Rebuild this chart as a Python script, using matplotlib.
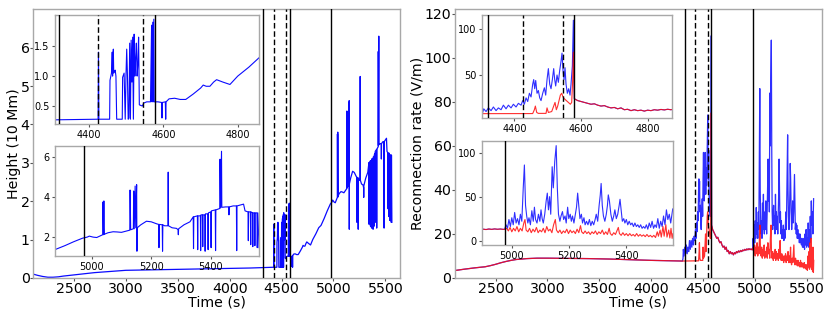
import numpy as np
import matplotlib
matplotlib.use("Agg")
import matplotlib.pyplot as plt

# ---------------- data ----------------
# Height (10 Mm)
h_t = [2110, 2150, 2200, 2250, 2300, 2350, 2400, 2500, 2600, 2700, 2800, 2900, 3000, 3200, 3400, 3600,
       3800, 4000, 4200, 4424, 4425, 4426, 4455, 4456, 4460, 4462, 4463, 4465, 4466, 4468, 4470, 4472,
       4474, 4489, 4490, 4494, 4497, 4499, 4501, 4503, 4505, 4507, 4509, 4511, 4513, 4515, 4517, 4519,
       4521, 4523, 4525, 4527, 4529, 4531, 4533, 4535, 4543, 4547, 4555, 4565, 4568, 4569, 4571, 4572,
       4574, 4575, 4585, 4595, 4596, 4597, 4605, 4606, 4607, 4615, 4630, 4645, 4660, 4680, 4700, 4707,
       4715, 4725, 4735, 4743, 4760, 4779, 4800, 4830, 4858, 4880, 4910, 4940, 4970, 4985, 4992, 5005,
       5017, 5030, 5037, 5038, 5040, 5041, 5042, 5055, 5072, 5085, 5100, 5115, 5128, 5129, 5131, 5140,
       5141, 5143, 5146, 5148, 5151, 5152, 5153, 5165, 5184, 5200, 5218, 5225, 5226, 5227, 5237, 5238,
       5239, 5245, 5256, 5257, 5258, 5270, 5285, 5290, 5291, 5292, 5310, 5330, 5341, 5342, 5343, 5355,
       5356, 5357, 5365, 5366, 5367, 5372, 5373, 5374, 5380, 5381, 5382, 5390, 5391, 5392, 5400, 5401,
       5402, 5415, 5416, 5417, 5430, 5431, 5433, 5436, 5437, 5450, 5460, 5461, 5462, 5475, 5486, 5487,
       5488, 5500, 5510, 5515, 5525, 5526, 5527, 5533, 5534, 5535, 5540, 5541, 5542, 5547, 5548, 5549,
       5555, 5556, 5558, 5562]
h_v = [0.10, 0.07, 0.04, 0.02, 0.02, 0.03, 0.05, 0.08, 0.11, 0.14, 0.16, 0.18, 0.20, 0.21, 0.22, 0.23,
       0.24, 0.25, 0.26, 0.28, 1.40, 0.28, 0.28, 0.93, 1.05, 1.40, 1.00, 1.45, 1.05, 1.08, 1.10, 1.00,
       0.28, 0.28, 0.98, 1.05, 0.28, 1.00, 1.45, 1.00, 0.28, 0.30, 1.55, 0.28, 1.60, 0.90, 1.65, 0.28,
       1.70, 1.00, 1.30, 1.55, 1.00, 1.20, 1.65, 0.52, 0.50, 0.55, 0.57, 0.57, 1.85, 0.57, 1.90, 0.57,
       1.95, 0.57, 0.57, 0.56, 0.30, 0.56, 0.57, 0.28, 0.57, 0.62, 0.63, 0.61, 0.61, 0.70, 0.80, 0.85,
       0.83, 0.83, 0.90, 0.94, 0.90, 0.86, 1.00, 1.15, 1.31, 1.37, 1.55, 1.75, 1.93, 1.98, 2.03, 1.98,
       1.96, 2.05, 2.10, 3.75, 2.10, 3.80, 2.12, 2.20, 2.25, 2.24, 2.22, 2.28, 2.33, 4.35, 2.35, 2.40,
       4.30, 2.40, 4.55, 2.45, 4.62, 1.27, 2.45, 2.60, 2.78, 2.75, 2.65, 2.62, 1.45, 2.62, 2.60, 1.27,
       2.60, 2.55, 2.55, 5.25, 2.55, 2.45, 2.42, 2.35, 2.10, 2.40, 2.60, 2.75, 3.00, 1.40, 3.00, 3.05,
       1.35, 3.05, 3.05, 1.30, 3.10, 3.10, 1.50, 3.10, 3.10, 1.27, 3.15, 3.15, 1.35, 3.20, 3.25, 1.45,
       3.30, 3.35, 1.30, 3.35, 3.42, 5.90, 3.45, 6.30, 3.48, 3.50, 3.50, 3.10, 3.50, 3.55, 3.55, 1.30,
       3.55, 3.60, 3.64, 3.30, 3.25, 1.80, 3.25, 3.25, 1.60, 3.25, 3.20, 1.50, 3.20, 3.20, 1.55, 3.20,
       3.20, 1.45, 3.20, 1.45]

# Reconnection rate (V/m) — common pre-flare part
pre_t = [2110, 2200, 2300, 2400, 2450, 2500, 2550, 2600, 2650, 2700, 2800, 2900, 3000, 3200, 3400,
         3600, 3800, 4000, 4200, 4300]
pre_v = [3.4, 4.0, 4.6, 5.1, 5.6, 6.2, 6.9, 7.5, 8.0, 8.4, 8.8, 9.0, 9.0, 8.9, 8.8,
         8.6, 8.3, 8.0, 7.8, 7.7]
# blue, 4300-4580
b1_t = [4305, 4308, 4315, 4322, 4330, 4337, 4345, 4352, 4360, 4367, 4375, 4382, 4390, 4397, 4405,
        4412, 4420, 4425, 4430, 4435, 4440, 4445, 4450, 4455, 4458, 4461, 4464, 4468, 4472, 4476,
        4480, 4485, 4490, 4494, 4498, 4502, 4506, 4510, 4514, 4518, 4521, 4524, 4528, 4532, 4536,
        4540, 4543, 4546, 4549, 4552, 4555, 4559, 4563, 4567, 4570, 4574, 4577, 4580]
b1_v = [9, 13, 10, 14, 11, 15, 11, 14, 12, 17, 13, 17, 14, 18, 15,
        19, 17, 22, 18, 25, 21, 30, 26, 40, 45, 35, 44, 30, 33, 25,
        22, 30, 36, 28, 45, 57, 40, 35, 45, 57, 45, 38, 50, 42, 55,
        65, 74, 55, 45, 58, 40, 30, 35, 28, 40, 60, 110, 24]
# red, 4300-4580
r1_t = [4455, 4460, 4463, 4467, 4472, 4495, 4498, 4502, 4512, 4518, 4522, 4526, 4530, 4534, 4538,
        4542, 4546, 4550, 4556, 4562, 4568, 4572, 4575, 4577, 4580]
r1_v = [7.8, 12, 16, 9, 8, 8, 14, 9, 10, 16, 20, 12, 16, 22, 28,
        30, 26, 24, 22, 20, 18, 20, 45, 75, 24]
# common decay part 4582-4975
mid_t = [4590, 4600, 4610, 4620, 4630, 4640, 4650, 4660, 4670, 4680, 4690, 4700, 4710, 4720,
         4730, 4740, 4750, 4760, 4770, 4780, 4790, 4800, 4810, 4820, 4830, 4840, 4850, 4860, 4870,
         4880, 4890, 4900, 4910, 4920, 4930, 4940, 4950, 4960, 4970]
mid_v = [22, 21, 20, 19, 18, 18.5, 17, 16, 16.5, 15, 14, 14.5, 13, 14,
         12, 12.5, 11, 12, 11, 11.5, 10.5, 11.5, 11, 12, 11.5, 12.3, 11.8, 12.5, 12,
         12.7, 12.4, 13, 12.6, 13.2, 12.8, 13.3, 12.9, 13.2, 12.8]
# blue, 4975-5565
b2_t = [4975, 4980, 4985, 4990, 4995, 5000, 5005, 5010, 5015, 5020, 5025, 5030, 5035, 5040, 5044,
        5048, 5052, 5056, 5060, 5065, 5070, 5075, 5079, 5083, 5088, 5093, 5098, 5102, 5106, 5110,
        5115, 5120, 5124, 5128, 5132, 5136, 5141, 5145, 5150, 5155, 5159, 5163, 5168, 5172, 5177,
        5181, 5186, 5190, 5195, 5199, 5204, 5208, 5212, 5217, 5222, 5226, 5230, 5234, 5238, 5243,
        5247, 5252, 5256, 5261, 5266, 5271, 5276, 5281, 5286, 5291, 5295, 5300, 5305, 5309, 5312,
        5316, 5320, 5325, 5330, 5334, 5337, 5341, 5346, 5351, 5356, 5360, 5365, 5370, 5375, 5378,
        5382, 5386, 5391, 5395, 5400, 5405, 5410, 5415, 5420, 5425, 5430, 5435, 5440, 5445, 5450,
        5455, 5460, 5465, 5470, 5475, 5480, 5485, 5490, 5495, 5500, 5505, 5510, 5515, 5520, 5525,
        5530, 5535, 5540, 5545, 5550, 5555, 5562]
b2_v = [13, 18, 14, 24, 16, 26, 18, 32, 20, 25, 18, 30, 22, 60, 86,
        40, 28, 20, 26, 18, 34, 22, 38, 24, 20, 30, 22, 35, 25, 20,
        30, 45, 54, 35, 50, 30, 84, 60, 90, 108, 60, 30, 22, 28, 33,
        24, 28, 20, 38, 25, 30, 22, 28, 20, 30, 38, 54, 40, 25, 30,
        20, 26, 18, 22, 18, 24, 17, 22, 18, 24, 30, 22, 40, 52, 65,
        40, 28, 22, 30, 40, 52, 45, 30, 22, 28, 35, 25, 30, 40, 47,
        35, 22, 25, 20, 24, 18, 22, 18, 20, 16, 20, 16, 18, 15, 18,
        14, 16, 14, 18, 13, 20, 15, 22, 14, 18, 15, 25, 14, 22, 16,
        28, 18, 35, 24, 30, 20, 36]
# red, 4975-5565
r2_t = [4975, 4982, 4988, 4994, 5000, 5006, 5012, 5018, 5024, 5030, 5036, 5042, 5046, 5050, 5056,
        5062, 5068, 5074, 5080, 5086, 5092, 5098, 5104, 5110, 5116, 5122, 5128, 5134, 5140, 5146,
        5152, 5156, 5162, 5168, 5174, 5180, 5186, 5192, 5198, 5204, 5210, 5216, 5222, 5228, 5234,
        5240, 5244, 5250, 5256, 5262, 5268, 5274, 5280, 5286, 5292, 5298, 5304, 5310, 5316, 5322,
        5328, 5334, 5340, 5344, 5350, 5356, 5362, 5368, 5372, 5376, 5382, 5388, 5394, 5400, 5406,
        5412, 5418, 5424, 5430, 5436, 5442, 5448, 5454, 5460, 5466, 5472, 5478, 5484, 5490, 5496,
        5502, 5508, 5512, 5518, 5522, 5528, 5532, 5538, 5542, 5548, 5552, 5556, 5560, 5563]
r2_v = [12.8, 14, 11, 15, 10, 14, 11, 16, 10, 14, 11, 20, 24, 12, 10,
        14, 9, 13, 10, 15, 9, 12, 10, 14, 9, 16, 11, 13, 9, 18,
        24, 12, 9, 12, 8, 11, 9, 13, 8, 12, 9, 11, 8, 13, 9,
        17, 10, 8, 11, 8, 10, 7, 10, 8, 11, 7, 10, 8, 12, 7,
        10, 7, 14, 8, 6, 9, 7, 12, 15, 8, 6, 9, 6, 8, 5.5,
        8, 5.5, 7, 5, 8, 5, 7, 5, 6.5, 4.5, 7, 4.5, 6, 4, 6,
        3.5, 10, 5, 12, 4, 16, 5, 18, 4, 12, 3, 14, 2.5, 8]

# event times (vertical markers)
solid_times = [4320, 4578, 4975]
dashed_times = [4425, 4545]

# ---------------- assemble ----------------
blue_t = np.array(pre_t + b1_t + mid_t + b2_t, dtype=float)
blue_v = np.array(pre_v + b1_v + mid_v + b2_v, dtype=float)
red_t = np.array(pre_t + r1_t + mid_t + r2_t, dtype=float)
red_v = np.array(pre_v + r1_v + mid_v + r2_v, dtype=float)

BLUE = "#0a0aff"
RED = "#ff0a0a"
SPINE = "#a8a8a8"

fig = plt.figure(figsize=(8.3, 3.12), dpi=100)


def style(ax, fs, tl=3.0, pad=1.5):
    for s in ax.spines.values():
        s.set_color(SPINE)
        s.set_linewidth(1.0)
    ax.tick_params(labelsize=fs, length=tl, width=0.8, color="#555555", pad=pad)


def vlines(ax, lw=1.0):
    for t in solid_times:
        ax.axvline(t, color="black", lw=lw, zorder=3)
    for t in dashed_times:
        ax.axvline(t, color="black", lw=lw, ls=(0, (4, 2)), zorder=3)


MAIN_FS = 10.2
# Left main
axL = fig.add_axes([0.0401, 0.1090, 0.4418, 0.8612])
axL.plot(h_t, h_v, color=BLUE, lw=0.9, zorder=2)
vlines(axL)
axL.set_xlim(2110, 5640)
axL.set_ylim(0, 7)
axL.set_xticks([2500, 3000, 3500, 4000, 4500, 5000, 5500])
axL.set_yticks([0, 1, 2, 3, 4, 5, 6])
style(axL, MAIN_FS, tl=2.0, pad=0.6)
axL.set_xlabel("Time (s)", fontsize=MAIN_FS, labelpad=0)
axL.set_ylabel("Height (10 Mm)", fontsize=MAIN_FS, labelpad=0)

# Right main
axR = fig.add_axes([0.5482, 0.1090, 0.4418, 0.8612])
axR.plot(blue_t, blue_v, color=BLUE, lw=0.9, alpha=0.85, zorder=2)
axR.plot(red_t, red_v, color=RED, lw=0.9, alpha=0.85, zorder=2)
vlines(axR)
axR.set_xlim(2110, 5640)
axR.set_ylim(0, 122)
axR.set_xticks([2500, 3000, 3500, 4000, 4500, 5000, 5500])
axR.set_yticks([0, 20, 40, 60, 80, 100, 120])
style(axR, MAIN_FS, tl=2.0, pad=0.6)
axR.set_xlabel("Time (s)", fontsize=MAIN_FS, labelpad=0)
axR.set_ylabel("Reconnection rate (V/m)", fontsize=MAIN_FS, labelpad=0)

# Left insets
iL1 = fig.add_axes([0.0663, 0.6016, 0.2461, 0.3503])
iL1.plot(h_t, h_v, color=BLUE, lw=0.8)
vlines(iL1, lw=1.0)
iL1.set_xlim(4308, 4858)
iL1.set_ylim(0.195, 2.02)
iL1.set_xticks([4400, 4600, 4800])
iL1.set_yticks([0.5, 1.0, 1.5])
iL1.set_yticklabels(["0.5", "1.0", "1.5"])
style(iL1, 7, tl=2.5)

iL2 = fig.add_axes([0.0663, 0.1795, 0.2458, 0.3535])
iL2.plot(h_t, h_v, color=BLUE, lw=0.8)
vlines(iL2, lw=1.0)
iL2.set_xlim(4877, 5562)
iL2.set_ylim(1.03, 6.58)
iL2.set_xticks([5000, 5200, 5400])
iL2.set_yticks([2, 4, 6])
style(iL2, 7, tl=2.5)

# Right insets
iR1 = fig.add_axes([0.5804, 0.6208, 0.2296, 0.3311])
iR1.plot(blue_t, blue_v, color=BLUE, lw=0.8, alpha=0.85)
iR1.plot(red_t, red_v, color=RED, lw=0.8, alpha=0.85)
vlines(iR1, lw=1.0)
iR1.set_xlim(4302, 4874)
iR1.set_ylim(2.6, 115.7)
iR1.set_xticks([4400, 4600, 4800])
iR1.set_yticks([50, 100])
style(iR1, 7, tl=2.5)

iR2 = fig.add_axes([0.5804, 0.2147, 0.2301, 0.3343])
iR2.plot(blue_t, blue_v, color=BLUE, lw=0.8, alpha=0.85)
iR2.plot(red_t, red_v, color=RED, lw=0.8, alpha=0.85)
vlines(iR2, lw=1.0)
iR2.set_xlim(4895, 5562)
iR2.set_ylim(-5, 113.6)
iR2.set_xticks([5000, 5200, 5400])
iR2.set_yticks([0, 50, 100])
style(iR2, 7, tl=2.5)

fig.savefig("out.png", dpi=100)
